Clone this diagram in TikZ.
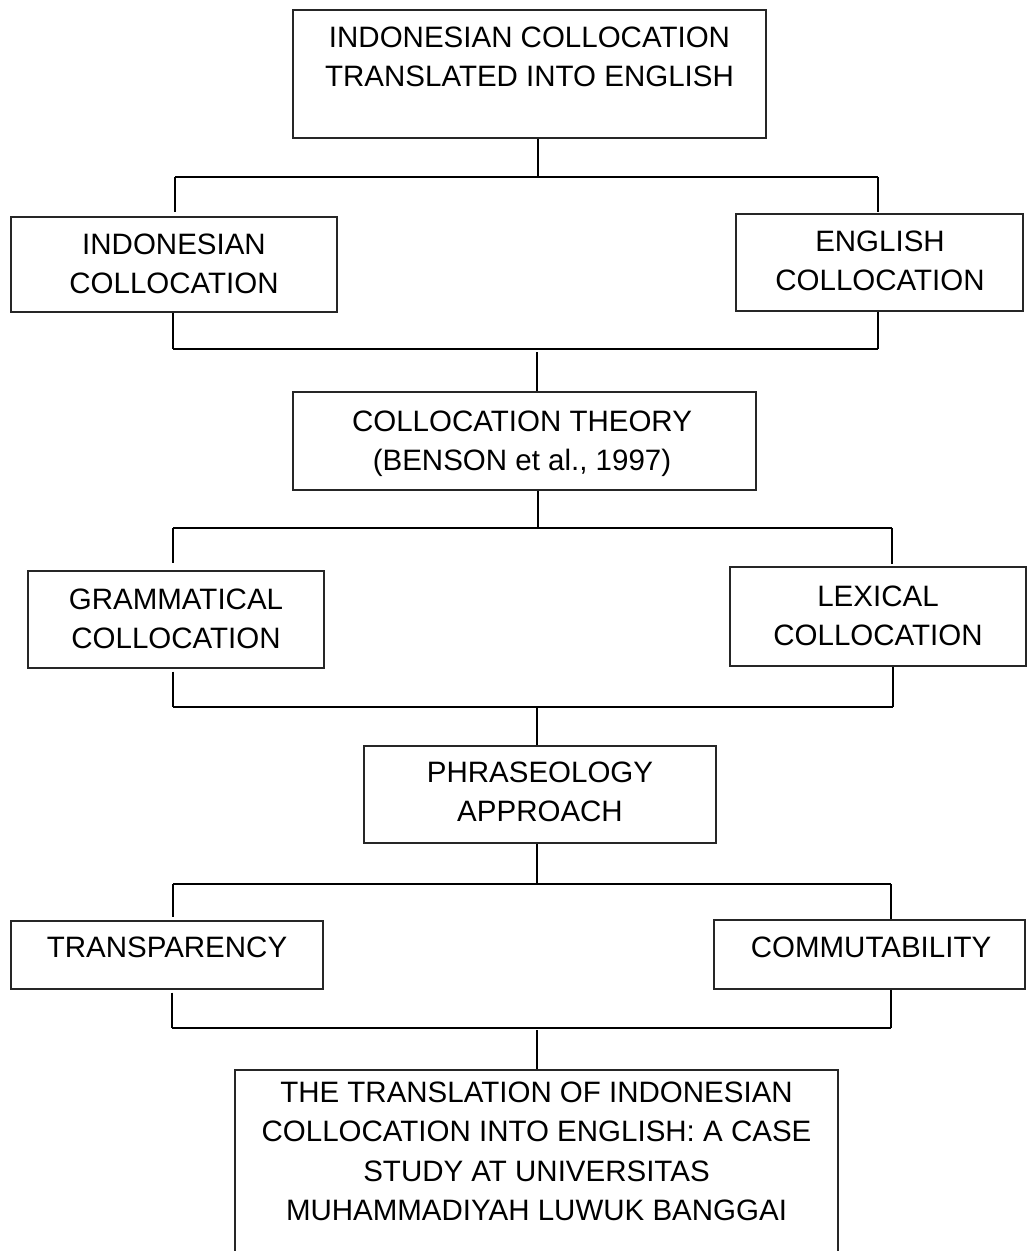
\documentclass[tikz,border=0pt]{standalone}
\usepackage{fontspec}
\setmainfont{Liberation Sans}
\begin{document}
\begin{tikzpicture}[x=1pt,y=-1pt,
  box/.style={draw=black!85, line width=1.1pt, inner sep=0pt},
  lbl/.style={font=\fontsize{29.5}{39.5}\selectfont, align=center, anchor=north, inner sep=0pt},
  bar/.style={line width=2pt},
  link/.style={line width=1.5pt}]
\useasboundingbox (0,0) rectangle (1027,1251);

% boxes
\node[box, minimum width=473, minimum height=128] (top) at (529.5,74) {};
\node[box, minimum width=326, minimum height=95] (ind) at (174,264.5) {};
\node[box, minimum width=287, minimum height=97] (eng) at (879.5,262.5) {};
\node[box, minimum width=463, minimum height=98] (coll) at (524.5,441) {};
\node[box, minimum width=296, minimum height=97] (gram) at (176,619.5) {};
\node[box, minimum width=296, minimum height=99] (lex) at (878,616.5) {};
\node[box, minimum width=352, minimum height=97] (phr) at (540,794.5) {};
\node[box, minimum width=312, minimum height=68] (trans) at (167,955) {};
\node[box, minimum width=311, minimum height=69] (comm) at (869.5,954.5) {};
\node[box, minimum width=603, minimum height=240] (fin) at (536.5,1190) {};

% labels
\node[lbl] (ttop) at (529.5,26.5) {INDONESIAN COLLOCATION\\TRANSLATED INTO ENGLISH};
\node[lbl] (tind) at (174,233.5) {INDONESIAN\\COLLOCATION};
\node[lbl] (teng) at (880,230.5) {ENGLISH\\COLLOCATION};
\node[lbl] (tcoll) at (522,410.5) {COLLOCATION THEORY\\(BENSON et al., 1997)};
\node[lbl] (tgram) at (176,588.5) {GRAMMATICAL\\COLLOCATION};
\node[lbl] (tlex) at (878,585.5) {LEXICAL\\COLLOCATION};
\node[lbl] (tphr) at (540,761.5) {PHRASEOLOGY\\APPROACH};
\node[lbl] (ttrans) at (167,936.5) {TRANSPARENCY};
\node[lbl] (tcomm) at (871,936.5) {COMMUTABILITY};
\node[lbl] (tfin) at (536.5,1081.5) {THE TRANSLATION OF INDONESIAN\\COLLOCATION INTO ENGLISH: A CASE\\STUDY AT UNIVERSITAS\\MUHAMMADIYAH LUWUK BANGGAI};

% junction coordinates
\coordinate (a1) at (538,177);  \coordinate (l1) at (175,177);  \coordinate (r1) at (878,177);
\coordinate (a2) at (537,349);  \coordinate (l2) at (173,349);  \coordinate (r2) at (878,349);
\coordinate (a3) at (538,528);  \coordinate (l3) at (173,528);  \coordinate (r3) at (892,528);
\coordinate (a4) at (537,707);  \coordinate (l4) at (173,707);  \coordinate (r4) at (893,707);
\coordinate (a5) at (537,884);  \coordinate (l5) at (173,884);  \coordinate (r5) at (891,884);
\coordinate (a6) at (537,1028); \coordinate (l6) at (172,1028); \coordinate (r6) at (891,1028);

% level 1
\draw[link] (top.south -| a1) -- (a1);
\draw[bar] (l1) -- (r1);
\draw[link] (l1) -- ([yshift=4pt]l1 |- ind.north);
\draw[link] (r1) -- ([yshift=1pt]r1 |- eng.north);
% level 2
\draw[link] (l2 |- ind.south) -- (l2);
\draw[link] (r2 |- eng.south) -- (r2);
\draw[bar] (l2) -- (r2);
\draw[link] ([yshift=-3pt]a2) -- (a2 |- coll.north);
% level 3
\draw[link] (coll.south -| a3) -- (a3);
\draw[bar] (l3) -- (r3);
\draw[link] (l3) -- ([yshift=7pt]l3 |- gram.north);
\draw[link] (r3) -- ([yshift=2pt]r3 |- lex.north);
% level 4
\draw[link] ([yshift=-3pt]l4 |- gram.south) -- (l4);
\draw[link] (r4 |- lex.south) -- (r4);
\draw[bar] (l4) -- (r4);
\draw[link] (a4) -- (a4 |- phr.north);
% level 5
\draw[link] (phr.south -| a5) -- (a5);
\draw[bar] (l5) -- (r5);
\draw[link] (l5) -- ([yshift=3pt]l5 |- trans.north);
\draw[link] (r5) -- (r5 |- comm.north);
% level 6
\draw[link] ([yshift=-3pt]l6 |- trans.south) -- (l6);
\draw[link] (r6 |- comm.south) -- (r6);
\draw[bar] (l6) -- (r6);
\draw[link] ([yshift=-2pt]a6) -- (a6 |- fin.north);
\end{tikzpicture}
\end{document}
